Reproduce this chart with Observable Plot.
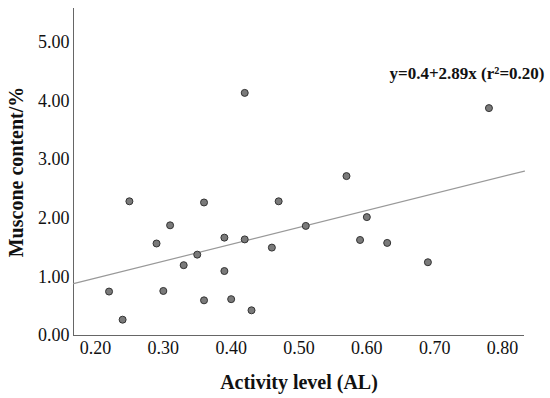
<!DOCTYPE html>
<html>
<head>
<meta charset="utf-8">
<script src="https://cdn.jsdelivr.net/npm/d3@7"></script>
<script src="https://cdn.jsdelivr.net/npm/@observablehq/plot@0.6"></script>
<style>
  html, body { margin: 0; padding: 0; background: #fff; }
  #chart svg { display: block; }
</style>
</head>
<body>
<div id="chart"></div>
<script>
const activity = [0.22, 0.24, 0.25, 0.29, 0.30, 0.31, 0.33, 0.35, 0.36, 0.36, 0.39, 0.39, 0.40, 0.42, 0.42, 0.43, 0.46, 0.47, 0.51, 0.57, 0.59, 0.60, 0.63, 0.69, 0.78];
const muscone  = [0.75, 0.27, 2.29, 1.57, 0.76, 1.88, 1.20, 1.38, 2.27, 0.60, 1.67, 1.10, 0.62, 4.14, 1.64, 0.43, 1.50, 2.29, 1.87, 2.72, 1.63, 2.02, 1.58, 1.25, 3.88];
const xTicks = [0.2, 0.3, 0.4, 0.5, 0.6, 0.7, 0.8];
const yTicks = [0, 1, 2, 3, 4, 5];
const intercept = 0.4;
const slope = 2.89;
const equationLabel = "y=0.4+2.89x (r\u00B2=0.20)";
const xTitle = "Activity level (AL)";
const yTitle = "Muscone content/%";

const xDomain = [0.1676, 0.8324];
const yDomain = [0, 5.58];

const points = activity.map((a, i) => ({x: a, y: muscone[i]}));
const fitLine = xDomain.map(x => ({x, y: intercept + slope * x}));

const font = "'Liberation Serif', 'Times New Roman', Times, serif";

const chart = Plot.plot({
  width: 550,
  height: 398,
  marginLeft: 73,
  marginRight: 26,
  marginTop: 8,
  marginBottom: 63,
  style: {fontFamily: font, background: "#fff", color: "#111"},
  x: {domain: xDomain, ticks: xTicks, tickFormat: d3.format(".2f"), label: null},
  y: {domain: yDomain, ticks: yTicks, tickFormat: d3.format(".2f"), label: null},
  marks: [
    Plot.axisX({ticks: xTicks, tickFormat: d3.format(".2f"), tickSize: 0, tickPadding: 6, fontSize: 18, label: null, fill: "#111"}),
    Plot.axisY({ticks: yTicks, tickFormat: d3.format(".2f"), tickSize: 0, tickPadding: 4, fontSize: 18, label: null, fill: "#111"}),
    Plot.ruleX([xDomain[0]], {stroke: "#666", strokeWidth: 1}),
    Plot.ruleY([0], {stroke: "#666", strokeWidth: 1}),
    Plot.line(fitLine, {x: "x", y: "y", stroke: "#999", strokeWidth: 1.2}),
    Plot.dot(points, {x: "x", y: "y", r: 3.5, fill: "#7a7a7a", stroke: "#333", strokeWidth: 1}),
    Plot.text([equationLabel], {frameAnchor: "top-right", text: d => d, textAnchor: "end", lineAnchor: "middle", dx: 20, dy: 65, fontSize: 17, fontWeight: "bold", fill: "#111"}),
    Plot.text([xTitle], {frameAnchor: "bottom", text: d => d, textAnchor: "middle", lineAnchor: "middle", dy: 47, fontSize: 20, fontWeight: "bold", fill: "#111"}),
    Plot.text([yTitle], {frameAnchor: "left", text: d => d, textAnchor: "middle", lineAnchor: "middle", rotate: -90, dx: -57, fontSize: 20, fontWeight: "bold", fill: "#111"})
  ]
});
document.getElementById("chart").appendChild(chart);
</script>
</body>
</html>
